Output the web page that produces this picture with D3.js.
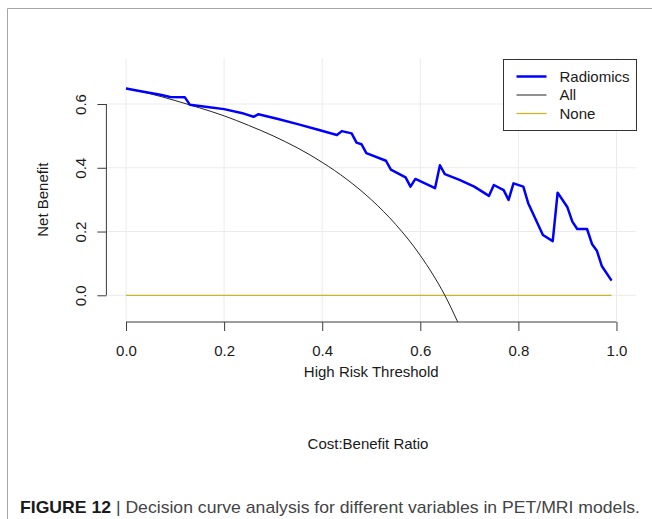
<!DOCTYPE html>
<html>
<head>
<meta charset="utf-8">
<script src="https://cdn.jsdelivr.net/npm/d3@7"></script>
<style>
  body { margin: 0; background: #fff; }
  text { font-family: "Liberation Sans", Arial, sans-serif; fill: #1a1a1a; }
</style>
</head>
<body>
<div id="chart"></div>
<script>
// data
const thresholds = [0.00, 0.03, 0.07, 0.09, 0.12, 0.13, 0.17, 0.20, 0.24, 0.26, 0.27, 0.31, 0.35, 0.39,
  0.43, 0.44, 0.46, 0.47, 0.48, 0.49, 0.53, 0.54, 0.57, 0.58, 0.59, 0.63, 0.64, 0.65, 0.68, 0.71,
  0.74, 0.75, 0.77, 0.78, 0.79, 0.81, 0.82, 0.85, 0.87, 0.88, 0.90, 0.91, 0.92, 0.94, 0.95, 0.96,
  0.97, 0.99];
const radiomics = [0.649, 0.640, 0.629, 0.622, 0.621, 0.598, 0.590, 0.584, 0.570, 0.560, 0.568, 0.553, 0.537, 0.520,
  0.503, 0.515, 0.508, 0.479, 0.474, 0.446, 0.422, 0.394, 0.370, 0.341, 0.365, 0.336, 0.408, 0.380, 0.362, 0.341,
  0.312, 0.346, 0.330, 0.299, 0.351, 0.341, 0.289, 0.189, 0.170, 0.322, 0.276, 0.231, 0.208, 0.208, 0.161, 0.140,
  0.092, 0.046];
const allThresholds = [0, 0.05, 0.10, 0.15, 0.20, 0.25, 0.30, 0.35, 0.40, 0.45, 0.50, 0.55, 0.60, 0.65, 0.70];
const allValues = [0.650, 0.632, 0.611, 0.588, 0.563, 0.533, 0.500, 0.462, 0.417, 0.364, 0.300, 0.222, 0.125, 0.000, -0.167];
const noneThresholds = [0, 0.99];
const noneValues = [0, 0];
const xTicks = [0, 0.2, 0.4, 0.6, 0.8, 1.0];
const yTicks = [0, 0.2, 0.4, 0.6];
const legendLabels = ['Radiomics', 'All', 'None'];
const legendColors = ['#0000ff', '#222222', '#cdb52a'];
const legendWidths = [2.5, 1, 1.3];

const width = 652, height = 519;
// plot region (R style, 4% padding around the data limits)
const plot = { left: 106.4, right: 636.1, top: 58, bottom: 322 };
const xlim = [0, 1], ylim = [-0.0531, 0.7137];
const pad = v => (v[1] - v[0]) * 0.04;

var svg = d3.select('#chart').append('svg')
  .attr('width', width)
  .attr('height', height);

// figure frame
svg.append('path')
  .attr('d', `M7.5,${height}V8.5H${width}`)
  .attr('fill', 'none')
  .attr('stroke', '#a6a6a6');

var x = d3.scaleLinear()
  .domain([xlim[0] - pad(xlim), xlim[1] + pad(xlim)])
  .range([plot.left, plot.right]);
var y = d3.scaleLinear()
  .domain([ylim[0] - pad(ylim), ylim[1] + pad(ylim)])
  .range([plot.bottom, plot.top]);

svg.append('clipPath').attr('id', 'clip')
  .append('rect')
  .attr('x', plot.left).attr('y', plot.top)
  .attr('width', plot.right - plot.left)
  .attr('height', plot.bottom - plot.top);

// grid
var grid = svg.append('g').attr('stroke', '#ebebeb').attr('stroke-width', 1);
grid.selectAll('.vg').data(xTicks).enter().append('line')
  .attr('x1', d => x(d)).attr('x2', d => x(d))
  .attr('y1', plot.top).attr('y2', plot.bottom);
grid.selectAll('.hg').data(yTicks).enter().append('line')
  .attr('x1', plot.left).attr('x2', plot.right)
  .attr('y1', d => y(d)).attr('y2', d => y(d));

// axes
var xAxis = svg.append('g')
  .attr('transform', `translate(0,${plot.bottom})`)
  .call(d3.axisBottom(x).tickValues(xTicks).tickSize(9).tickSizeOuter(0).tickPadding(14).tickFormat(d3.format('.1f')));
xAxis.select('.domain').attr('d', `M${x(0)},0H${x(1)}`);

var yAxis = svg.append('g')
  .attr('transform', `translate(${plot.left},0)`)
  .call(d3.axisLeft(y).tickValues(yTicks).tickSize(9).tickSizeOuter(0).tickFormat(d3.format('.1f')));
yAxis.select('.domain').attr('d', `M0,${y(0)}V${y(0.6)}`);
yAxis.selectAll('.tick text')
  .attr('x', 0).attr('dy', null)
  .attr('text-anchor', 'middle')
  .attr('dominant-baseline', 'central')
  .attr('transform', 'translate(-26,0) rotate(-90)');

svg.selectAll('.domain, .tick line').attr('stroke', '#3a3a3a');
svg.selectAll('.tick text').attr('font-size', 15).attr('font-family', '"Liberation Sans", Arial, sans-serif').attr('fill', '#1a1a1a');

// curves
var lines = svg.append('g').attr('clip-path', 'url(#clip)');
var line = d3.line().x(d => x(d[0])).y(d => y(d[1]));

lines.append('path')
  .datum(noneThresholds.map((t, i) => [t, noneValues[i]]))
  .attr('d', line)
  .attr('fill', 'none').attr('stroke', legendColors[2]).attr('stroke-width', legendWidths[2]);

lines.append('path')
  .datum(allThresholds.map((t, i) => [t, allValues[i]]))
  .attr('d', line.curve(d3.curveMonotoneX))
  .attr('fill', 'none').attr('stroke', legendColors[1]).attr('stroke-width', legendWidths[1]);

lines.append('path')
  .datum(thresholds.map((t, i) => [t, radiomics[i]]))
  .attr('d', line.curve(d3.curveLinear))
  .attr('fill', 'none').attr('stroke', legendColors[0]).attr('stroke-width', legendWidths[0])
  .attr('stroke-linejoin', 'round');

// axis titles
svg.append('text')
  .attr('x', (x(0) + x(1)) / 2).attr('y', 377)
  .attr('text-anchor', 'middle').attr('font-size', 15)
  .text('High Risk Threshold');
svg.append('text')
  .attr('transform', `translate(48,${y(0.3)}) rotate(-90)`)
  .attr('text-anchor', 'middle').attr('font-size', 15)
  .text('Net Benefit');
svg.append('text')
  .attr('x', 368).attr('y', 449)
  .attr('text-anchor', 'middle').attr('font-size', 15)
  .text('Cost:Benefit Ratio');

// legend
var legend = svg.append('g').attr('transform', 'translate(503.5,59.5)');
legend.append('rect')
  .attr('width', 133).attr('height', 71)
  .attr('fill', '#fff').attr('stroke', '#333');
var rows = legend.selectAll('.row').data(legendLabels).enter().append('g')
  .attr('transform', (d, i) => `translate(0,${17 + i * 18.5})`);
rows.append('line')
  .attr('x1', 13).attr('x2', 43)
  .attr('stroke', (d, i) => legendColors[i])
  .attr('stroke-width', (d, i) => legendWidths[i]);
rows.append('text')
  .attr('x', 56).attr('dy', '0.35em')
  .attr('font-size', 15)
  .text(d => d);

// caption
var cap = svg.append('text')
  .attr('x', 20).attr('y', 513)
  .attr('font-size', 17)
  .attr('textLength', 620).attr('lengthAdjust', 'spacingAndGlyphs');
cap.append('tspan').attr('font-weight', 'bold').text('FIGURE 12');
cap.append('tspan').attr('fill', '#444').text(' | Decision curve analysis for different variables in PET/MRI models.');
</script>
</body>
</html>
